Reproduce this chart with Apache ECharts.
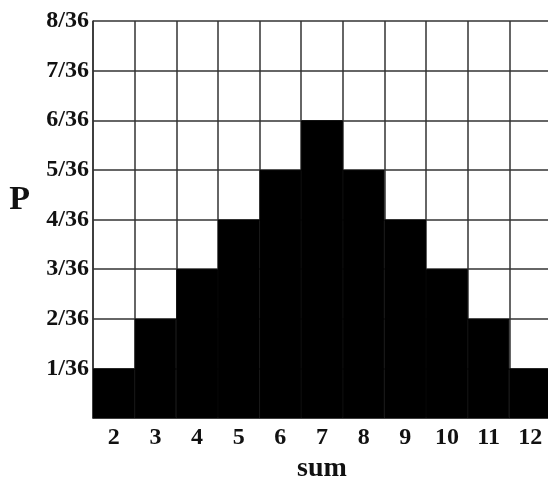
<!DOCTYPE html>
<html><head><meta charset="utf-8">
<script src="https://cdn.jsdelivr.net/npm/echarts@6/dist/echarts.min.js"></script>
<style>html,body{margin:0;padding:0;background:#fff}#c{width:548px;height:481px}</style>
</head><body><div id="c"></div>
<script>
const sums = ['2','3','4','5','6','7','8','9','10','11','12'];
const ways = [1,2,3,4,5,6,5,4,3,2,1]; // numerators of P = ways/36
const denom = 36;
const yMax = 8;
const chart = echarts.init(document.getElementById('c'), null, {renderer:'canvas'});
const font = '"Liberation Serif", "DejaVu Serif", serif';
chart.setOption({
  animation:false,
  backgroundColor:'#fff',
  grid:{left:93, top:21, width:458, height:397, containLabel:false, outerBoundsMode:'none'},
  xAxis:{
    type:'category', data:sums, boundaryGap:true,
    name:'sum', nameLocation:'middle', nameGap:36,
    nameTextStyle:{fontFamily:font, fontWeight:'bold', fontSize:28, color:'#111'},
    axisLine:{show:true, lineStyle:{color:'#333', width:1.5}},
    axisTick:{show:false},
    axisLabel:{fontFamily:font, fontWeight:'bold', fontSize:24, color:'#111', margin:8, interval:0},
    splitLine:{show:true, interval:0, lineStyle:{color:'#333', width:1.5}}
  },
  yAxis:{
    type:'value', min:0, max:yMax, interval:1,
    name:'P', nameLocation:'middle', nameGap:63, nameRotate:0,
    nameTextStyle:{fontFamily:font, fontWeight:'bold', fontSize:34, color:'#111', verticalAlign:'bottom', lineHeight:38},
    axisLine:{show:true, lineStyle:{color:'#333', width:1.5}},
    axisTick:{show:false},
    axisLabel:{fontFamily:font, fontWeight:'bold', fontSize:24, color:'#111', margin:4,
      formatter:v=> v===0 ? '' : v+'/'+denom},
    splitLine:{show:true, lineStyle:{color:'#333', width:1.5}}
  },
  series:[{
    type:'bar', data:ways, barCategoryGap:'0%', barGap:'0%',
    itemStyle:{color:'#000', borderColor:'#000', borderWidth:1}
  }]
});
</script></body></html>
